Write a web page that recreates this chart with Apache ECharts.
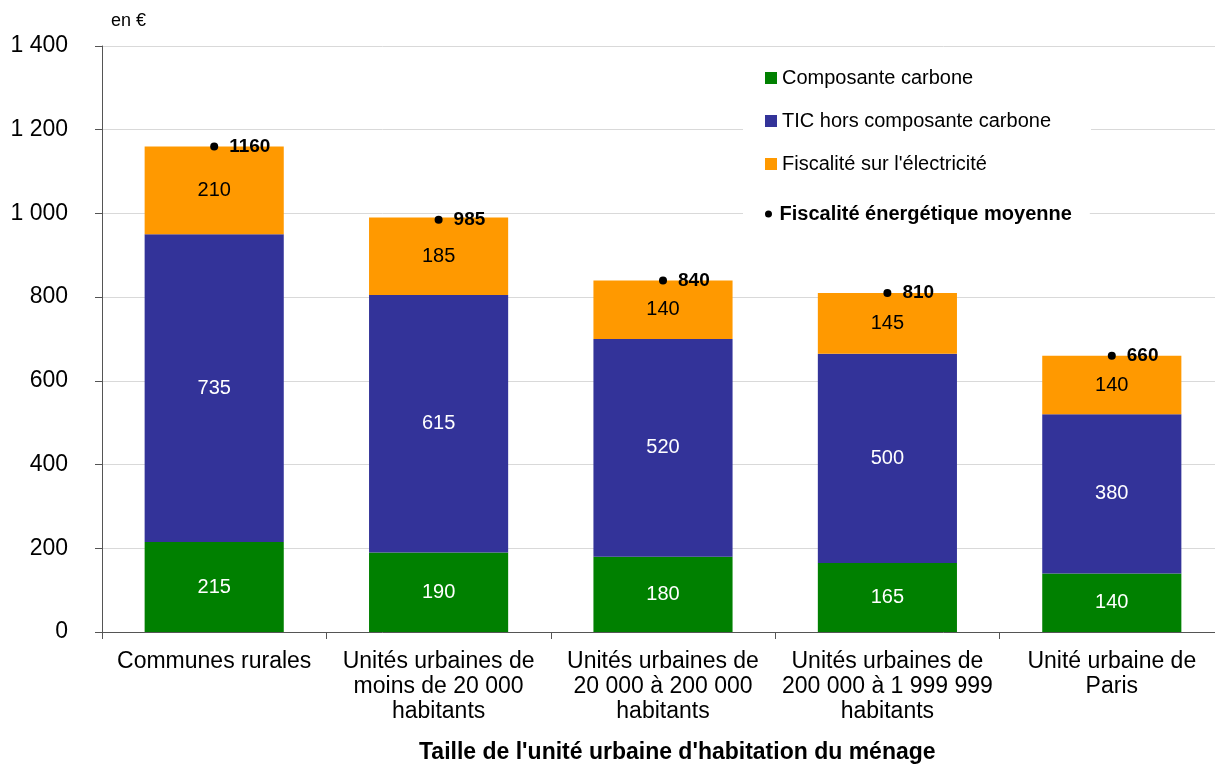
<!DOCTYPE html>
<html>
<head>
<meta charset="utf-8">
<script src="https://cdn.jsdelivr.net/npm/echarts@6/dist/echarts.min.js"></script>
<style>
  html, body { margin: 0; padding: 0; background: #fff; overflow: hidden; }
  #chart { width: 1226px; height: 767px; }
</style>
</head>
<body>
<div id="chart"></div>
<script>
// categories and values
var categories = [
  'Communes rurales',
  'Unités urbaines de\nmoins de 20 000\nhabitants',
  'Unités urbaines de\n20 000 à 200 000\nhabitants',
  'Unités urbaines de\n200 000 à 1 999 999\nhabitants',
  'Unité urbaine de\nParis'
];
var carbone = [215, 190, 180, 165, 140];
var ticHors = [735, 615, 520, 500, 380];
var electricite = [210, 185, 140, 145, 140];
var moyenne = [1160, 985, 840, 810, 660];

var font = '"Liberation Sans", Arial, sans-serif';

var chart = echarts.init(document.getElementById('chart'));

var option = {
  backgroundColor: '#fff',
  textStyle: { fontFamily: font },
  animation: false,
  // plot runs a little past the right edge of the window, as in the original
  grid: { left: 102, right: 2, top: 46, bottom: 135, containLabel: false },
  legend: [{
    orient: 'vertical',
    left: 743,
    top: 62,
    icon: 'rect',
    itemWidth: 12,
    itemHeight: 12,
    itemGap: 23,
    padding: [6, 40, 6, 22],
    backgroundColor: '#fff',
    textStyle: { fontSize: 20, color: '#000', fontFamily: font },
    data: ['Composante carbone', 'TIC hors composante carbone', "Fiscalité sur l'électricité"]
  }, {
    orient: 'vertical',
    left: 743,
    top: 198,
    itemWidth: 12,
    itemHeight: 7,
    padding: [6, 18, 10, 22],
    backgroundColor: '#fff',
    textStyle: { fontSize: 20, color: '#000', fontWeight: 'bold', fontFamily: font },
    data: [{ name: 'Fiscalité énergétique moyenne', icon: 'path://M6,0 A3.5,3.5 0 1 1 5.99,0 Z' }]
  }],
  xAxis: {
    type: 'category',
    data: categories,
    axisLine: { lineStyle: { color: '#555', width: 1 } },
    axisTick: { show: true, alignWithLabel: false, length: 7, lineStyle: { color: '#555' } },
    axisLabel: {
      interval: 0,
      color: '#000',
      fontSize: 23,
      lineHeight: 25,
      margin: 17,
      fontFamily: font
    }
  },
  yAxis: {
    type: 'value',
    min: 0,
    max: 1400,
    interval: 200,
    axisLine: { show: true, lineStyle: { color: '#555' } },
    axisTick: { show: true, length: 7, lineStyle: { color: '#555' } },
    splitLine: { lineStyle: { color: '#d9d9d9' } },
    axisLabel: {
      color: '#000',
      fontSize: 23,
      margin: 34,
      fontFamily: font,
      formatter: function (v) {
        return String(v).replace(/\B(?=(\d{3})+(?!\d))/g, ' ');
      }
    }
  },
  series: [{
    name: 'Composante carbone',
    type: 'bar',
    stack: 'total',
    barWidth: '62%',
    data: carbone,
    itemStyle: { color: '#008000' },
    label: { show: true, position: 'inside', color: '#fff', fontSize: 20, fontFamily: font }
  }, {
    name: 'TIC hors composante carbone',
    type: 'bar',
    stack: 'total',
    data: ticHors,
    itemStyle: { color: '#333399' },
    label: { show: true, position: 'inside', color: '#fff', fontSize: 20, fontFamily: font }
  }, {
    name: "Fiscalité sur l'électricité",
    type: 'bar',
    stack: 'total',
    data: electricite,
    itemStyle: { color: '#ff9900' },
    label: { show: true, position: 'inside', color: '#000', fontSize: 20, fontFamily: font }
  }, {
    name: 'Fiscalité énergétique moyenne',
    type: 'scatter',
    data: moyenne,
    symbol: 'circle',
    symbolSize: 8,
    itemStyle: { color: '#000', opacity: 1 },
    z: 5,
    label: {
      show: true,
      position: 'right',
      distance: 11,
      color: '#000',
      fontSize: 19,
      fontWeight: 'bold',
      fontFamily: font
    }
  }],
  graphic: [{
    type: 'text',
    left: 111,
    top: 12,
    style: { text: 'en €', fontSize: 18, fill: '#000', fontFamily: font }
  }, {
    type: 'text',
    left: 419,
    top: 741,
    style: {
      text: "Taille de l'unité urbaine d'habitation du ménage",
      fontSize: 23,
      fontWeight: 'bold',
      fill: '#000',
      fontFamily: font
    }
  }]
};

chart.setOption(option);
</script>
</body>
</html>
